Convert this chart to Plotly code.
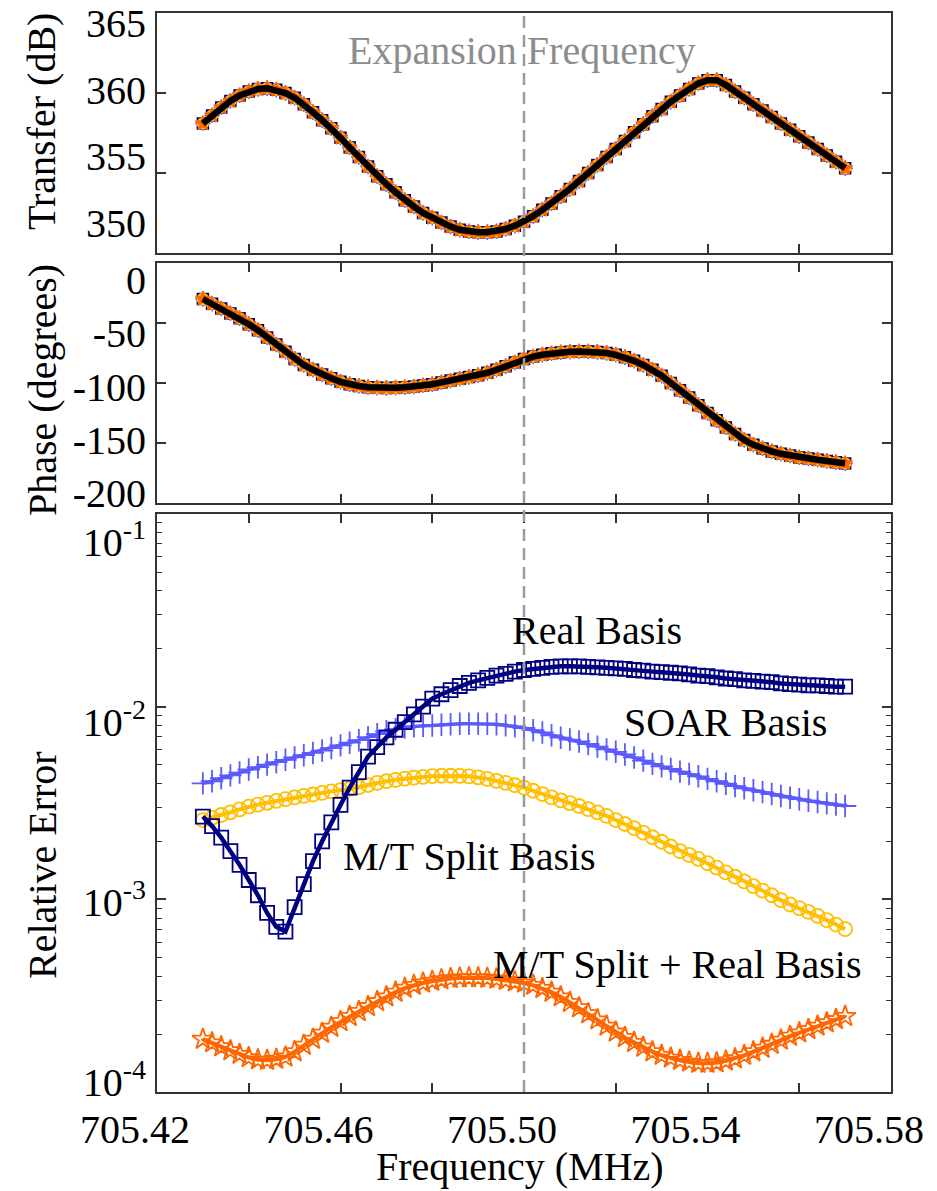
import numpy as np
import plotly.graph_objects as go

# ---------------------------------------------------------------- data
# frequency sweep (MHz), uniform 2 kHz steps
F_START, F_STOP, F_STEP = 705.430, 705.570, 0.002
freq = np.round(np.arange(F_START, F_STOP + F_STEP / 2, F_STEP), 3)

# exact transfer magnitude (dB)
transfer_db = [
    358.1, 358.6, 359.1, 359.5, 359.85, 360.1, 360.25, 360.3, 360.2, 360.0,
    359.7, 359.3, 358.8, 358.3, 357.8, 357.2, 356.6, 356.0, 355.4, 354.8,
    354.3, 353.8, 353.3, 352.9, 352.5, 352.2, 351.9, 351.65, 351.45, 351.35,
    351.3, 351.3, 351.35, 351.5, 351.7, 351.95, 352.3, 352.7, 353.1, 353.55,
    354.0, 354.5, 355.0, 355.5, 356.0, 356.5, 357.0, 357.55, 358.05, 358.55,
    359.0, 359.45, 359.85, 360.25, 360.6, 360.8, 360.8, 360.5, 360.1, 359.7,
    359.3, 358.9, 358.5, 358.1, 357.7, 357.3, 356.9, 356.5, 356.1, 355.7, 355.3,
]

# transfer phase (degrees)
phase_deg = [
    -30, -34, -38, -42, -46, -51, -56, -62, -68, -74,
    -80, -85, -89, -93, -96, -99, -101, -102.5, -103.5, -104,
    -104.2, -104, -103.5, -103, -102, -101, -99.5, -98, -96.5, -95,
    -93.5, -91.5, -89, -86, -83, -80, -78, -76.5, -75.3, -74.5,
    -74, -73.8, -73.8, -74.2, -75, -76.5, -78.5, -81.5, -85, -89,
    -94, -100, -106, -112, -118.5, -125, -131, -137, -142.5, -147.5,
    -151.5, -154.5, -157, -159, -160.5, -162, -163, -164, -165, -166, -167,
]

# relative error of each reduced basis
real_basis = np.array([
    2.69, 2.40, 2.09, 1.78, 1.51, 1.26, 1.05, 0.85, 0.72, 0.68,
    0.91, 1.20, 1.58, 2.00, 2.51, 3.09, 3.80, 4.57, 5.50, 6.17,
    6.92, 7.59, 8.32, 9.12, 10.0, 11.0, 11.6, 12.2, 12.8, 13.3,
    13.7, 14.1, 14.5, 14.8, 15.2, 15.5, 15.7, 15.9, 16.1, 16.2,
    16.2, 16.2, 16.1, 16.0, 15.9, 15.8, 15.7, 15.5, 15.4, 15.2,
    15.1, 15.0, 14.9, 14.7, 14.5, 14.4, 14.2, 14.0, 13.9, 13.7,
    13.6, 13.5, 13.4, 13.2, 13.1, 13.0, 12.9, 12.9, 12.8, 12.7, 12.7,
]) * 1e-3

soar_basis = np.array([
    4.00, 4.10, 4.25, 4.40, 4.55, 4.72, 4.85, 5.00, 5.15, 5.30,
    5.45, 5.60, 5.75, 5.92, 6.10, 6.30, 6.50, 6.70, 6.95, 7.20,
    7.45, 7.65, 7.80, 7.90, 7.95, 7.98, 8.05, 8.10, 8.15, 8.15,
    8.15, 8.15, 8.10, 8.00, 7.90, 7.75, 7.55, 7.35, 7.10, 6.90,
    6.75, 6.60, 6.40, 6.20, 6.00, 5.83, 5.65, 5.45, 5.25, 5.05,
    4.90, 4.75, 4.60, 4.47, 4.35, 4.22, 4.10, 3.98, 3.87, 3.77,
    3.68, 3.60, 3.52, 3.44, 3.37, 3.31, 3.25, 3.20, 3.15, 3.10, 3.05,
]) * 1e-3

mt_split = np.array([
    2.58, 2.65, 2.74, 2.83, 2.93, 3.03, 3.10, 3.17, 3.24, 3.31,
    3.38, 3.44, 3.50, 3.57, 3.63, 3.69, 3.74, 3.82, 3.92, 4.02,
    4.10, 4.17, 4.23, 4.28, 4.32, 4.36, 4.38, 4.38, 4.37, 4.35,
    4.30, 4.22, 4.12, 4.02, 3.91, 3.80, 3.66, 3.52, 3.38, 3.26,
    3.16, 3.05, 2.94, 2.83, 2.71, 2.58, 2.46, 2.34, 2.22, 2.10,
    1.99, 1.88, 1.78, 1.70, 1.62, 1.54, 1.46, 1.38, 1.31, 1.24,
    1.17, 1.11, 1.05, 0.99, 0.94, 0.90, 0.86, 0.82, 0.78, 0.74, 0.70,
]) * 1e-3

mt_split_real = np.array([
    1.88, 1.80, 1.72, 1.64, 1.57, 1.51, 1.47, 1.46, 1.48, 1.52,
    1.62, 1.75, 1.88, 2.02, 2.17, 2.32, 2.47, 2.62, 2.78, 2.95,
    3.12, 3.30, 3.46, 3.58, 3.68, 3.76, 3.83, 3.88, 3.91, 3.92,
    3.92, 3.90, 3.86, 3.80, 3.74, 3.68, 3.58, 3.45, 3.30, 3.12,
    2.92, 2.74, 2.55, 2.37, 2.20, 2.05, 1.92, 1.81, 1.71, 1.62,
    1.55, 1.50, 1.46, 1.43, 1.41, 1.41, 1.42, 1.45, 1.49, 1.55,
    1.62, 1.69, 1.77, 1.86, 1.95, 2.03, 2.11, 2.20, 2.29, 2.38, 2.47,
]) * 1e-4

EXPANSION_FREQ = 705.50

# tick positions and labels
x_ticks = [705.42, 705.44, 705.46, 705.48, 705.50, 705.52, 705.54, 705.56, 705.58]
x_ticktext = ["705.42", " ", "705.46", " ", "705.50", " ", "705.54", " ", "705.58"]
transfer_ticks = [350, 355, 360, 365]
phase_ticks = [-200, -150, -100, -50, 0]
phase_ticktext = ["-200", "-150", "-100", "-50", "0"]
err_ticks = [1e-4, 1e-3, 1e-2, 1e-1]
err_ticktext = ["10<sup>-4</sup>", "10<sup>-3</sup>", "10<sup>-2</sup>", "10<sup>-1</sup>"]

# ---------------------------------------------------------------- styling
W, H = 937, 1191
FONT = "Liberation Serif"
NAVY = "#000080"
SOAR_C = "#5a5aff"
GOLD = "#ffbf00"
ORANGE = "#ff6600"
FRAME = "#333333"


def px_x(p):
    return p / W


def px_y(p):
    return 1 - p / H


X_DOM = [px_x(157), px_x(891)]
TOP_DOM = [px_y(253), px_y(13)]
MID_DOM = [px_y(503), px_y(263)]
BOT_DOM = [px_y(1092), px_y(514)]

fig = go.Figure()

# top and middle panels: every basis sits under the exact response
for xa, ya, vals in [("x", "y", transfer_db), ("x2", "y2", phase_deg)]:
    for sym, col in [("square", NAVY), ("cross-thin", SOAR_C),
                     ("circle", GOLD), ("star", ORANGE)]:
        fig.add_trace(go.Scatter(
            x=freq, y=vals, mode="markers", xaxis=xa, yaxis=ya,
            marker=dict(symbol=sym, size=11, color=col,
                        line=dict(color=col, width=1.5)),
            showlegend=False, hoverinfo="skip"))
    fig.add_trace(go.Scatter(
        x=freq, y=vals, mode="lines", xaxis=xa, yaxis=ya,
        line=dict(color="black", width=6.5),
        showlegend=False, hoverinfo="skip"))

# bottom panel: relative error of each basis
bottom_series = [
    (mt_split_real, ORANGE, "star-open", 16, 4),
    (mt_split, GOLD, "circle-open", 14, 4),
    (soar_basis, SOAR_C, "cross-thin", 16, 3.5),
    (real_basis, NAVY, "square-open", 14, 4.5),
]
for vals, col, sym, size, lw in bottom_series:
    fig.add_trace(go.Scatter(
        x=freq, y=vals, mode="lines+markers", xaxis="x3", yaxis="y3",
        line=dict(color=col, width=lw),
        marker=dict(symbol=sym, size=size, color=col,
                    line=dict(color=col, width=1.8)),
        showlegend=False, hoverinfo="skip"))

# empty traces that carry the tick-label axes
for xa, ya in [("x", "y4"), ("x2", "y5"), ("x3", "y6")]:
    fig.add_trace(go.Scatter(x=[None], y=[None], xaxis=xa, yaxis=ya,
                             showlegend=False, hoverinfo="skip"))

frame = dict(showline=True, linecolor=FRAME, linewidth=2, ticks="inside",
             tickcolor=FRAME, tickwidth=1.5, ticklen=9, showgrid=False,
             zeroline=False, automargin=False)
label_axis = dict(showline=False, ticks="", showgrid=False, zeroline=False,
                  automargin=False,
                  tickfont=dict(family=FONT, size=40, color="black"),
                  ticklabelstandoff=10)

fig.update_layout(
    width=W, height=H,
    margin=dict(l=0, r=0, t=0, b=0, autoexpand=False),
    paper_bgcolor="white", plot_bgcolor="white",
    font=dict(family=FONT, size=40, color="black"),
    hovermode=False,
    xaxis=dict(frame, domain=X_DOM, anchor="y", range=[705.42, 705.58],
               tickvals=x_ticks, showticklabels=False, mirror=True),
    xaxis2=dict(frame, domain=X_DOM, anchor="y2", range=[705.42, 705.58],
                tickvals=x_ticks, showticklabels=False, mirror="ticks"),
    xaxis3=dict(frame, domain=X_DOM, anchor="y3", range=[705.42, 705.58],
                tickvals=x_ticks, ticktext=x_ticktext, mirror="ticks",
                tickfont=dict(family=FONT, size=40, color="black"),
                ticklabelshift=-22, ticklabelstandoff=1),
    yaxis=dict(frame, domain=TOP_DOM, anchor="x", range=[350, 365],
               tickvals=transfer_ticks, showticklabels=False, mirror="ticks"),
    yaxis2=dict(frame, domain=MID_DOM, anchor="x2", range=[-200, 0],
                tickvals=phase_ticks, showticklabels=False, mirror="ticks"),
    yaxis3=dict(frame, domain=BOT_DOM, anchor="x3", type="log", range=[-4, -1],
                tickvals=err_ticks, showticklabels=False, mirror="ticks",
                minor=dict(ticks="inside", ticklen=5, tickcolor=FRAME,
                           tickwidth=1.2,
                           tickvals=[m * d for d in err_ticks[:-1] for m in range(2, 10)])),
    yaxis4=dict(label_axis, overlaying="y", anchor="x", side="left",
                range=[347.75, 365.75], tickvals=transfer_ticks),
    yaxis5=dict(label_axis, overlaying="y2", anchor="x2", side="left",
                range=[-209.4, 16.0], tickvals=phase_ticks,
                ticktext=phase_ticktext),
    yaxis6=dict(label_axis, overlaying="y3", anchor="x3", side="left",
                type="log", range=[-4.0556, -0.8444],
                tickvals=err_ticks, ticktext=err_ticktext),
)

# expansion frequency marker across all three panels
fig.add_shape(type="line", xref="x3", yref="paper",
              x0=EXPANSION_FREQ, x1=EXPANSION_FREQ,
              y0=BOT_DOM[0], y1=TOP_DOM[1],
              line=dict(color="#9c9c9c", width=2.5, dash="12px,7px"),
              layer="above")


def note(text, x, y, color="black", angle=0):
    fig.add_annotation(text=text, x=px_x(x), y=px_y(y), xref="paper",
                       yref="paper", showarrow=False, textangle=angle,
                       xanchor="center", yanchor="middle",
                       font=dict(family=FONT, size=40, color=color))


note("Expansion Frequency", 522, 50, color="#8c8c8c")
note("Real Basis", 597, 630)
note("SOAR Basis", 725, 722)
note("M/T Split Basis", 469, 856)
note("M/T Split + Real Basis", 677, 964)

note("Transfer (dB)", 42, 122, angle=-90)
note("Phase (degrees)", 42, 390, angle=-90)
note("Relative Error", 42, 865, angle=-90)
note("Frequency (MHz)", 520, 1166)

fig.write_html("out.html")
